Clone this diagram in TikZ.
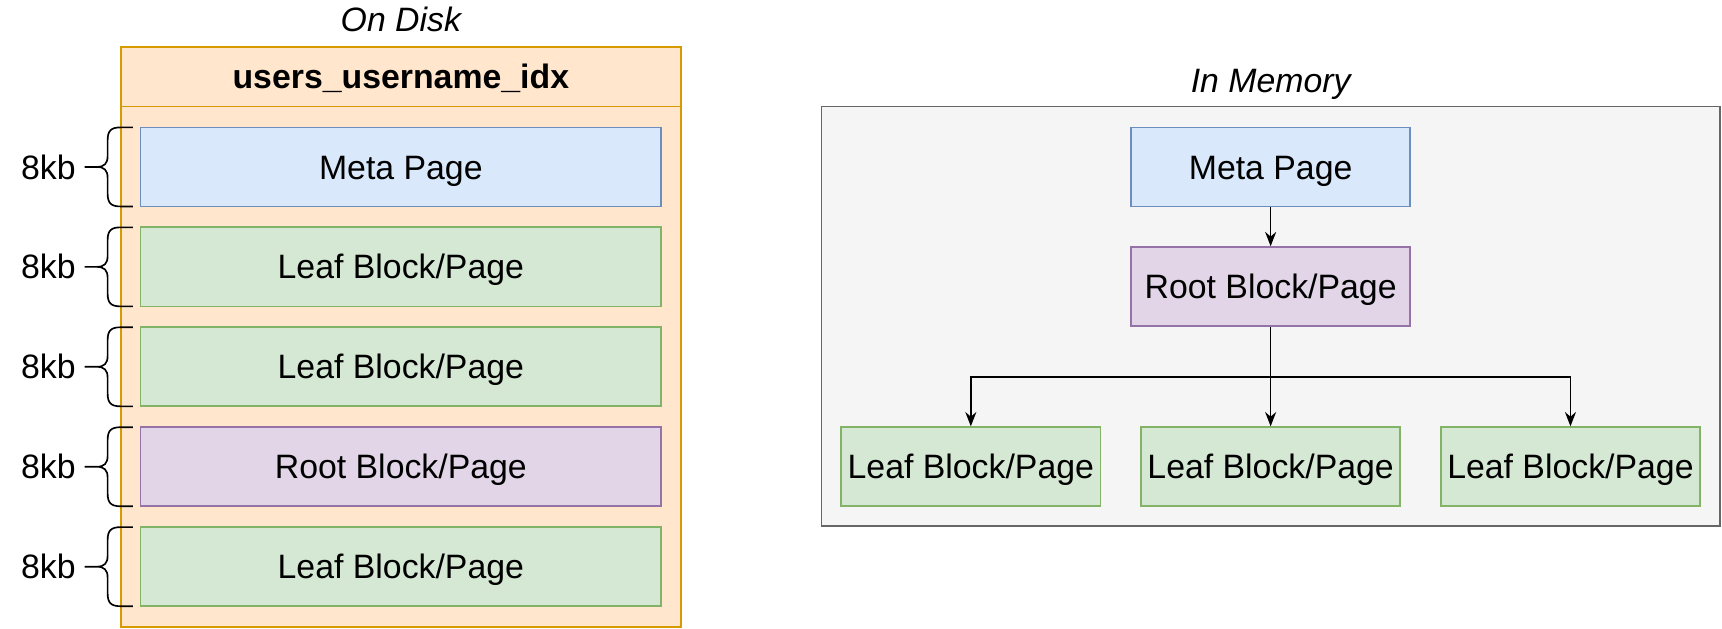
\documentclass[tikz,border=0pt]{standalone}
\usepackage{fontspec}
\setmainfont{Liberation Sans}
\usetikzlibrary{arrows.meta,positioning}
\definecolor{diskfill}{HTML}{FFE6CC}
\definecolor{diskline}{HTML}{D79B00}
\definecolor{memfill}{HTML}{F5F5F5}
\definecolor{memline}{HTML}{666666}
\definecolor{metafill}{HTML}{DAE8FC}
\definecolor{metaline}{HTML}{6C8EBF}
\definecolor{leaffill}{HTML}{D5E8D4}
\definecolor{leafline}{HTML}{82B366}
\definecolor{rootfill}{HTML}{E1D5E7}
\definecolor{rootline}{HTML}{9673A6}
\tikzset{
  every node/.style={font=\fontsize{15.4}{18}\selectfont, text height=11pt, text depth=0pt},
  box/.style={draw, line width=0.8pt, inner sep=0pt},
  metapage/.style={box, fill=metafill, draw=metaline},
  leafpage/.style={box, fill=leaffill, draw=leafline},
  rootpage/.style={box, fill=rootfill, draw=rootline},
  diskpage/.style={minimum width=237pt, minimum height=36pt},
  mempage/.style={minimum width=127pt, minimum height=36pt},
  title/.style={font=\fontsize{15.4}{18}\selectfont\itshape},
  sizebrace/.style={draw, line width=0.75pt},
  arr/.style={draw, line width=0.75pt, -{Stealth[length=6.5pt, width=5pt]}}
}
\begin{document}
\begin{tikzpicture}[x=0.5pt, y=-0.5pt]
		\useasboundingbox (0,0) rectangle (1568,572);
		% on disk
		\node[title] (disktitle) at (365,18) {On Disk};
		\node[box, fill=diskfill, draw=diskline, minimum width=255pt, minimum height=264pt] (disk) at (365,307) {};
		\node[box, fill=diskfill, draw=diskline, minimum width=255pt, minimum height=27pt, font=\fontsize{15.4}{18}\selectfont\bfseries] (diskhead) at (365,70) {users\_username\_idx};
		\foreach \n/\s/\t [count=\i] in {dmeta/metapage/{Meta Page}, dleaf1/leafpage/{Leaf Block/Page}, dleaf2/leafpage/{Leaf Block/Page}, droot/rootpage/{Root Block/Page}, dleaf3/leafpage/{Leaf Block/Page}}{
			\pgfmathsetmacro\y{116+91*(\i-1)}
			\pgfmathsetmacro\m{\y+36}
			\pgfmathsetmacro\b{\y+72}
			\node[\s, diskpage] (\n) at (365,\m) {\t};
			\draw[sizebrace] (121,\y) -- (110,\y) .. controls (101,\y) and (98,\y+3) .. (98,\y+12) -- (98,\m-10) .. controls (98,\m-3) and (95,\m) .. (88,\m) -- (77,\m)
				(88,\m) .. controls (95,\m) and (98,\m+3) .. (98,\m+10) -- (98,\b-12) .. controls (98,\b-3) and (101,\b) .. (110,\b) -- (121,\b);
			\node (kb\i) at (44,\m) {8kb};
		}
		% in memory
		\node[title] (memtitle) at (1157,73) {In Memory};
		\node[box, fill=memfill, draw=memline, minimum width=409pt, minimum height=191pt] (mem) at (1157,288) {};
		\node[metapage, mempage] (mmeta) at (1157,152) {Meta Page};
		\node[rootpage, mempage] (mroot) at (1157,261) {Root Block/Page};
		\node[leafpage, mempage, minimum width=118pt] (mleaf1) at (884,425) {Leaf Block/Page};
		\node[leafpage, mempage, minimum width=118pt] (mleaf2) at (1157,425) {Leaf Block/Page};
		\node[leafpage, mempage, minimum width=118pt] (mleaf3) at (1430,425) {Leaf Block/Page};
		\coordinate (bus) at (1157,343);
		\draw[arr] (mmeta) -- (mroot);
		\draw[arr] (mroot) -- (mleaf2);
		\draw[arr] (mroot.south) -- (bus) -| (mleaf1.north);
		\draw[arr] (mroot.south) -- (bus) -| (mleaf3.north);
	\end{tikzpicture}
\end{document}
